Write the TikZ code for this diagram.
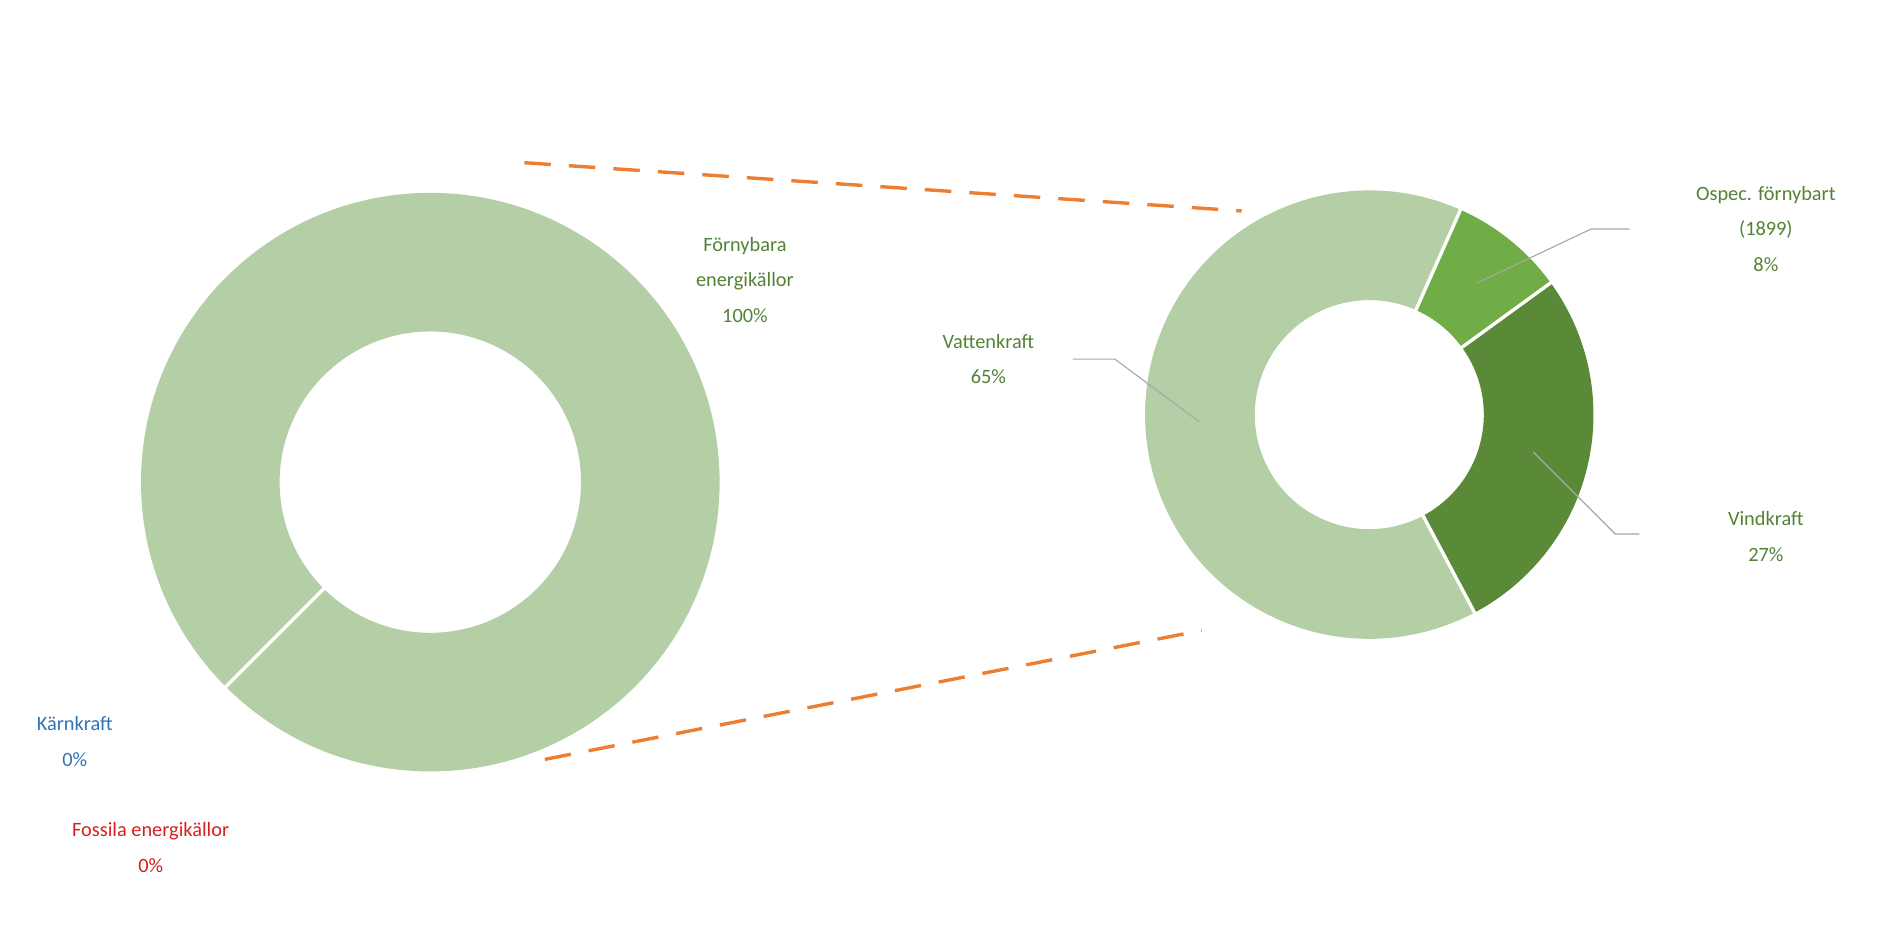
\documentclass[tikz,border=0pt]{standalone}
\usepackage{fontspec}
\setmainfont{Carlito}
\usetikzlibrary{calc}
\definecolor{lg}{HTML}{B4CFA6}
\definecolor{mg}{HTML}{70AD47}
\definecolor{dg}{HTML}{5A8A38}
\definecolor{tg}{HTML}{548235}
\definecolor{tb}{HTML}{2E75B6}
\definecolor{tr}{HTML}{D62020}
\definecolor{og}{HTML}{ED7D31}
\begin{document}
\begin{tikzpicture}[x=0.05cm,y=0.05cm,
  lbl/.style={align=center,font=\fontsize{24}{42}\selectfont,text=tg},
  lead/.style={draw=gray!70,line width=1.3pt},
  dsh/.style={draw=og,line width=4pt,dash pattern=on 1.1cm off 0.75cm},
  sep/.style={draw=white,line width=4pt}]
\useasboundingbox (0,0) rectangle (1568,780);
% big ring
\coordinate (B) at (357,380);
\fill[lg,even odd rule] (B) circle[radius=240] (B) circle[radius=125];
\draw[sep] ($(B)+(225:123)$) -- ($(B)+(225:242)$);
% small ring
\coordinate (S) at (1136,436);
\newcommand\myslice[4]{\fill[#1] ($(S)+(#2:186)$) arc[start angle=#2,end angle=#3,radius=186] -- ($(S)+(#3:95)$) arc[start angle=#3,end angle=#2,radius=95] -- cycle;}
\myslice{lg}{66}{298}{}
\myslice{mg}{36}{66}{}
\myslice{dg}{-62}{36}{}
\foreach \ang in {66,36,-62} \draw[sep] ($(S)+(\ang:93)$) -- ($(S)+(\ang:188)$);
% dashed lines
\coordinate (d1) at (435,645); \coordinate (d2) at (1030,605);
\coordinate (d3) at (452,150); \coordinate (d4) at (997,257);
\draw[dsh] (d1) -- (d2);
\draw[dsh] (d3) -- (d4);
% labels
\node[lbl] (fb) at (618,548) {Förnybara\\energikällor\\100\%};
\node[lbl] (vk) at (820,482) {Vattenkraft\\65\%};
\node[lbl] (os) at (1465,590) {Ospec. förnybart\\(1899)\\8\%};
\node[lbl] (vi) at (1465,335) {Vindkraft\\27\%};
\node[lbl,text=tb] (kk) at (62,165) {Kärnkraft\\0\%};
\node[lbl,text=tr] (fo) at (125,77) {Fossila energikällor\\0\%};
% leaders
\coordinate (o1) at (1225,545); \coordinate (o2) at (1352,590);
\draw[lead] (o1) -- (1320,590) -- (o2);
\coordinate (v1) at (1272,405); \coordinate (v2) at (1360,337);
\draw[lead] (v1) -- (1340,337) -- (v2);
\coordinate (w1) at (995,430); \coordinate (w2) at (890,482);
\draw[lead] (w1) -- (925,482) -- (w2);
\end{tikzpicture}
\end{document}
